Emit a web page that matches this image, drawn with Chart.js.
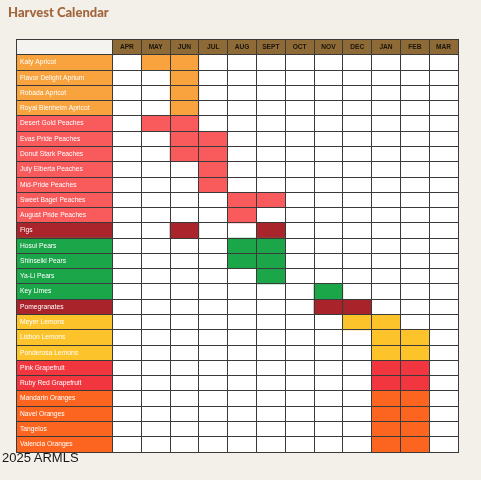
<!DOCTYPE html>
<html>
<head>
<meta charset="utf-8">
<title>Harvest Calendar</title>
<script src="https://cdn.jsdelivr.net/npm/chart.js@4.4.1/dist/chart.umd.min.js"></script>
<style>
  html, body { margin: 0; padding: 0; background: #f3efe9; }
  #wrap { position: relative; width: 481px; height: 480px; }
  #stamp {
    position: absolute; left: 2px; top: 451px;
    font: 13px "Liberation Sans", Arial, sans-serif; line-height: 13px;
    color: #161616;
  }
</style>
</head>
<body>
<div id="wrap">
  <canvas id="harvestChart"></canvas>
  <div id="stamp">2025 ARMLS</div>
</div>
<script>
const months = ["APR", "MAY", "JUN", "JUL", "AUG", "SEPT", "OCT", "NOV", "DEC", "JAN", "FEB", "MAR"];

const fruits = [
  "Katy Apricot", "Flavor Delight Aprium", "Robada Apricot", "Royal Blenheim Apricot",
  "Desert Gold Peaches", "Evas Pride Peaches", "Donut Stark Peaches", "July Elberta Peaches",
  "Mid-Pride Peaches", "Sweet Bagel Peaches", "August Pride Peaches", "Figs",
  "Hosui Pears", "Shinseiki Pears", "Ya-Li Pears", "Key Limes", "Pomegranates",
  "Meyer Lemons", "Lisbon Lemons", "Ponderosa Lemons", "Pink Grapefruit", "Ruby Red Grapefruit",
  "Mandarin Oranges", "Navel Oranges", "Tangelos", "Valencia Oranges"
];

// months each fruit is in season
const seasons = [
  ["MAY", "JUN"], ["JUN"], ["JUN"], ["JUN"],
  ["MAY", "JUN"], ["JUN", "JUL"], ["JUN", "JUL"], ["JUL"],
  ["JUL"], ["AUG", "SEPT"], ["AUG"], ["JUN", "SEPT"],
  ["AUG", "SEPT"], ["AUG", "SEPT"], ["SEPT"], ["NOV"], ["NOV", "DEC"],
  ["DEC", "JAN"], ["JAN", "FEB"], ["JAN", "FEB"], ["JAN", "FEB"], ["JAN", "FEB"],
  ["JAN", "FEB"], ["JAN", "FEB"], ["JAN", "FEB"], ["JAN", "FEB"]
];

/* colours */
const APRICOT = "#f8a33d", PEACH = "#f95a5c", FIG = "#a9242b", PEAR = "#1ca64a",
      POM = "#a8232a", LEMON = "#fdc32b", GRAPEFRUIT = "#f2363f", ORANGE = "#fc651f";
const fruitColors = [
  APRICOT, APRICOT, APRICOT, APRICOT,
  PEACH, PEACH, PEACH, PEACH, PEACH, PEACH, PEACH, FIG,
  PEAR, PEAR, PEAR, PEAR, POM,
  LEMON, LEMON, LEMON, GRAPEFRUIT, GRAPEFRUIT,
  ORANGE, ORANGE, ORANGE, ORANGE
];
const HEADER = "#8d6a36";
const LINE = "#3a3a3a";
const LABEL_COL = -3.35;   // name column width, in month units

const rows = [""].concat(fruits);

const datasets = [];

// white cells + brown header strip (drawn first, at the bottom)
datasets.push({
  order: 3,
  data: rows.map(() => [0, months.length]),
  backgroundColor: rows.map((r, i) => i === 0 ? HEADER : "#ffffff")
});

// name column
datasets.push({
  order: 2,
  data: rows.map(() => [LABEL_COL, 0]),
  backgroundColor: ["#f5f3f0"].concat(fruitColors)
});

// one dataset per month
months.forEach((m, mi) => {
  datasets.push({
    order: 1,
    data: rows.map((r, i) => (i > 0 && seasons[i - 1].includes(m)) ? [mi, mi + 1] : null),
    backgroundColor: ["#ffffff"].concat(fruitColors)
  });
});

datasets.forEach(ds => {
  ds.xAxisID = "x";
  ds.yAxisID = "y";
  ds.grouped = false;
  ds.barPercentage = 1;
  ds.categoryPercentage = 1;
  ds.borderWidth = 0;
});

const edges = [LABEL_COL].concat(months.map((m, i) => i), [months.length]);

new Chart(document.getElementById("harvestChart"), {
  type: "bar",
  data: { labels: rows, datasets: datasets },
  options: {
    indexAxis: "y",
    responsive: true,
    maintainAspectRatio: false,
    animation: false,
    layout: { padding: { left: 8, right: 23, top: 0, bottom: 28 } },
    plugins: {
      legend: { display: false },
      tooltip: { enabled: false },
      title: {
        display: true,
        text: "Harvest Calendar",
        align: "start",
        color: "#a2653c",
        font: { family: "Lato, 'Liberation Sans', sans-serif", size: 13, weight: 900 },
        padding: { top: 5, bottom: 19 }
      }
    },
    scales: {
      x: {
        type: "linear",
        position: "bottom",
        min: LABEL_COL,
        max: months.length,
        afterBuildTicks: axis => { axis.ticks = edges.map(v => ({ value: v })); },
        afterFit: axis => { axis.height = 0; },
        ticks: { display: false },
        grid: { z: 1, color: LINE, lineWidth: 1, drawTicks: false },
        border: { z: 1, color: LINE, width: 1 }
      },
      x2: {
        type: "linear",
        position: "top",
        min: LABEL_COL,
        max: months.length,
        afterBuildTicks: axis => { axis.ticks = months.map((m, i) => ({ value: i + 0.5 })); },
        afterFit: axis => { axis.height = 0; },
        ticks: {
          z: 2,
          mirror: true,
          padding: 4,
          autoSkip: false,
          maxRotation: 0,
          color: "#1b150b",
          font: { family: "'Liberation Sans', Arial, sans-serif", size: 6.6, weight: "bold" },
          callback: (v, i) => months[i]
        },
        grid: { display: false, drawTicks: false },
        border: { z: 1, color: LINE, width: 1 }
      },
      y: {
        type: "category",
        position: "left",
        afterFit: axis => { axis.width = 8; },
        ticks: {
          z: 2,
          mirror: true,
          padding: 4,
          autoSkip: false,
          color: "#ffffff",
          font: { family: "'Liberation Sans', Arial, sans-serif", size: 6.7 }
        },
        grid: { z: 1, offset: true, color: LINE, lineWidth: 1, drawTicks: false },
        border: { z: 1, color: LINE, width: 1 }
      }
    }
  }
});
</script>
</body>
</html>
